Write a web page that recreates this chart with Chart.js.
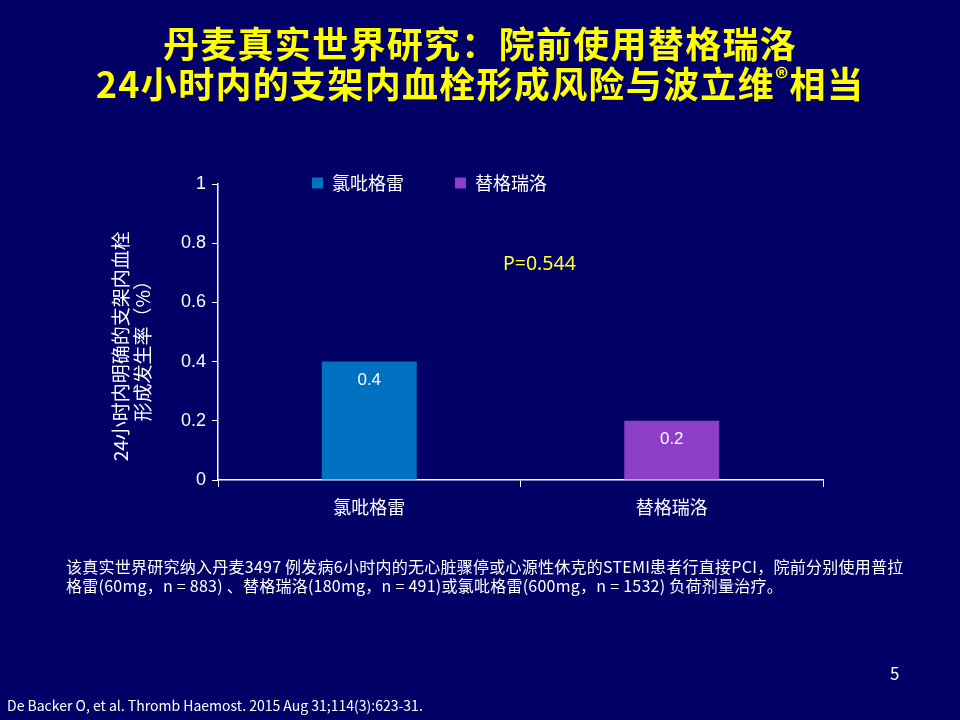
<!DOCTYPE html>
<html lang="zh-CN">
<head>
<meta charset="utf-8">
<title>丹麦真实世界研究</title>
<script src="https://cdn.jsdelivr.net/npm/chart.js@4/dist/chart.umd.min.js"></script>
<style>
    html, body {
        margin: 0;
        padding: 0;
        background: #000066;
    }
    .page {
        position: relative;
        width: 960px;
        height: 720px;
        overflow: hidden;
        background: #000066;
        font-family: "Noto Sans CJK SC", "Noto Sans", sans-serif;
    }
    #chart {
        position: absolute;
        left: 0;
        top: 0;
    }
    .title {
        position: absolute;
        left: 0;
        top: 22px;
        width: 960px;
        text-align: center;
        color: #ffff00;
        font-size: 36px;
        line-height: 40px;
        font-weight: bold;
        letter-spacing: 1.3px;
    }
    .title sup {
        font-size: 26px;
        vertical-align: 10px;
        line-height: 0;
    }
    .pvalue {
        position: absolute;
        left: 503px;
        top: 250px;
        color: #ffff33;
        font-family: "Noto Sans", sans-serif;
        font-size: 19.5px;
        line-height: 26px;
    }
    .note {
        position: absolute;
        left: 66px;
        top: 557px;
        color: #ffffff;
        font-size: 16px;
        line-height: 19px;
        letter-spacing: 0.25px;
        white-space: nowrap;
    }
    .pagenum {
        position: absolute;
        left: 890px;
        top: 662px;
        color: #ffffff;
        font-size: 17px;
        line-height: 22px;
    }
    .cite {
        position: absolute;
        left: 7px;
        top: 696px;
        color: #ffffff;
        font-size: 14px;
        line-height: 18px;
        white-space: nowrap;
    }
</style>
</head>
<body>
<div class="page">
    <canvas id="chart" width="960" height="720"></canvas>
    <div class="title">丹麦真实世界研究：院前使用替格瑞洛<br>24小时内的支架内血栓形成风险与波立维<sup>®</sup>相当</div>
    <div class="pvalue">P=0.544</div>
    <div class="note">该真实世界研究纳入丹麦3497 例发病6小时内的无心脏骤停或心源性休克的STEMI患者行直接PCI，院前分别使用普拉<br>格雷(60mg，n = 883) 、替格瑞洛(180mg，n = 491)或氯吡格雷(600mg，n = 1532) 负荷剂量治疗。</div>
    <div class="pagenum">5</div>
    <div class="cite">De Backer O, et al. Thromb Haemost. 2015 Aug 31;114(3):623-31.</div>
</div>
<script>
// 数据
const categories = ['氯吡格雷', '替格瑞洛'];
const seriesNames = ['氯吡格雷', '替格瑞洛'];
const stentThrombosis = [0.4, 0.2];
const barColors = ['#0070c0', '#8c3fc6'];
const yTicks = [0, 0.2, 0.4, 0.6, 0.8, 1];
const yTitle = ['24小时内明确的支架内血栓\u2002\u2002\u2002', '形成发生率（%）\u2002\u2002\u2002'];

const tickFont = { family: '"Liberation Sans", "Noto Sans CJK SC", sans-serif', size: 18 };
const legendPad = 51;
const legendHeight = 61;

// 图例高度压缩，让图例叠在绘图区顶部；绘制时放开裁剪区
const legendHeightFix = {
    id: 'legendHeightFix',
    beforeInit(chart) {
        const origFit = chart.legend.fit;
        chart.legend.fit = function () {
            origFit.call(this);
            this.height = legendHeight;
        };
    },
    afterLayout(chart) {
        const lg = chart.legend;
        lg.height = legendHeight + 40;
        lg.bottom = lg.top + lg.height;
    }
};

// 柱内数值标签
const barValueLabels = {
    id: 'barValueLabels',
    afterDatasetsDraw(chart) {
        const ctx = chart.ctx;
        ctx.save();
        ctx.fillStyle = '#ffffff';
        ctx.font = '17px "Liberation Sans", sans-serif';
        ctx.textAlign = 'center';
        ctx.textBaseline = 'middle';
        chart.data.datasets.forEach((ds, i) => {
            const meta = chart.getDatasetMeta(i);
            meta.data.forEach((bar, j) => {
                const v = ds.data[j];
                if (v === null) return;
                ctx.fillText(String(v), bar.x, bar.y + 19);
            });
        });
        ctx.restore();
    }
};

// 每个系列只在自己的类别上有值
const datasets = seriesNames.map((name, i) => ({
    label: name,
    data: categories.map((c, j) => (j === i ? stentThrombosis[j] : null)),
    backgroundColor: barColors[i],
    borderWidth: 0,
    barPercentage: 0.314,
    categoryPercentage: 1,
    skipNull: true
}));

new Chart(document.getElementById('chart'), {
    type: 'bar',
    data: { labels: categories, datasets: datasets },
    options: {
        responsive: false,
        animation: false,
        layout: { padding: { left: 36, right: 137, top: 184 - legendHeight, bottom: 200 } },
        plugins: {
            legend: {
                position: 'top',
                labels: {
                    color: '#ffffff',
                    boxWidth: 11,
                    boxHeight: 11,
                    padding: legendPad,
                    font: { family: '"Noto Sans CJK SC", sans-serif', size: 18 }
                }
            },
            tooltip: { enabled: false }
        },
        scales: {
            x: {
                offset: true,
                grid: { offset: true, drawOnChartArea: false, color: '#ffffff', tickLength: 7 },
                border: { color: '#ffffff', width: 1.5 },
                ticks: { color: '#ffffff', padding: 9, font: { family: '"Noto Sans CJK SC", sans-serif', size: 18 } },
                afterFit(scale) { scale.height = 40; }
            },
            y: {
                min: 0,
                max: 1,
                afterBuildTicks(scale) { scale.ticks = yTicks.map(v => ({ value: v })); },
                grid: { drawOnChartArea: false, color: '#ffffff', tickLength: 6 },
                border: { color: '#ffffff', width: 1.5 },
                ticks: {
                    color: '#ffffff',
                    padding: 6,
                    font: tickFont,
                    callback: v => String(v)
                },
                title: {
                    display: true,
                    text: yTitle,
                    color: '#ffffff',
                    font: { family: '"Noto Sans CJK SC", sans-serif', size: 19, lineHeight: 1.16 },
                    padding: { top: 74, bottom: 0 }
                },
                afterFit(scale) { scale.width = 182; }
            }
        }
    },
    plugins: [legendHeightFix, barValueLabels]
});
</script>
</body>
</html>
